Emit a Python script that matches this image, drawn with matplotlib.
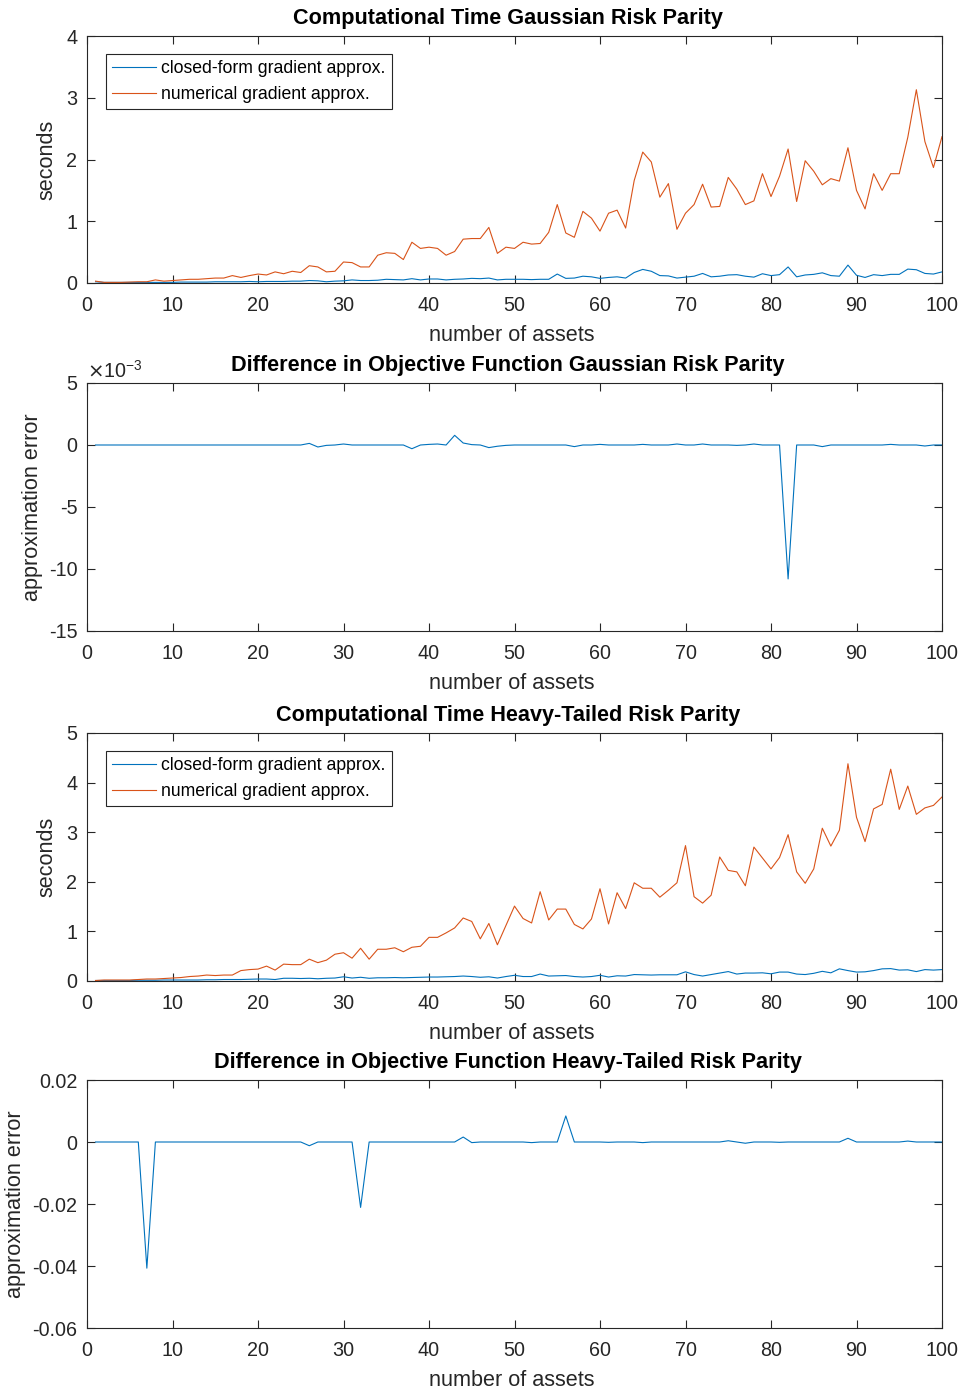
import numpy as np
import matplotlib
matplotlib.use("Agg")
import matplotlib.pyplot as plt
from matplotlib.ticker import FuncFormatter

plt.rcParams["font.family"] = ["Liberation Sans", "DejaVu Sans"]
plt.rcParams["axes.unicode_minus"] = False

n_assets = list(range(1, 101))

# Gaussian risk parity: run time (seconds)
gauss_closed = [
    0.02, 0.01, 0.01, 0.01, 0.01, 0.01, 0.01, 0.01, 0.01, 0.01,
    0.015, 0.015, 0.015, 0.015, 0.02, 0.02, 0.02, 0.02, 0.025, 0.02,
    0.025, 0.025, 0.025, 0.03, 0.03, 0.04, 0.035, 0.02, 0.03, 0.035,
    0.05, 0.04, 0.04, 0.045, 0.06, 0.055, 0.05, 0.07, 0.05, 0.065,
    0.065, 0.05, 0.06, 0.065, 0.075, 0.07, 0.08, 0.05, 0.06, 0.06,
    0.06, 0.055, 0.06, 0.06, 0.145, 0.075, 0.08, 0.11, 0.10, 0.075,
    0.09, 0.10, 0.08, 0.17, 0.22, 0.19, 0.12, 0.115, 0.08, 0.095,
    0.11, 0.155, 0.10, 0.11, 0.13, 0.135, 0.11, 0.095, 0.15, 0.12,
    0.135, 0.26, 0.10, 0.13, 0.14, 0.165, 0.12, 0.11, 0.29, 0.125,
    0.09, 0.135, 0.12, 0.14, 0.14, 0.225, 0.215, 0.155, 0.145, 0.18,
]
gauss_numeric = [
    0.03, 0.01, 0.01, 0.01, 0.015, 0.02, 0.02, 0.05, 0.03, 0.04,
    0.05, 0.06, 0.06, 0.07, 0.08, 0.08, 0.12, 0.09, 0.12, 0.145,
    0.13, 0.18, 0.15, 0.19, 0.17, 0.28, 0.26, 0.18, 0.19, 0.34,
    0.33, 0.26, 0.26, 0.45, 0.49, 0.48, 0.38, 0.66, 0.56, 0.58,
    0.56, 0.45, 0.51, 0.71, 0.72, 0.72, 0.90, 0.48, 0.58, 0.56,
    0.66, 0.63, 0.64, 0.82, 1.27, 0.81, 0.74, 1.16, 1.05, 0.84,
    1.13, 1.18, 0.89, 1.66, 2.12, 1.96, 1.39, 1.61, 0.87, 1.13,
    1.27, 1.60, 1.23, 1.24, 1.71, 1.52, 1.27, 1.33, 1.77, 1.40,
    1.73, 2.17, 1.32, 1.98, 1.81, 1.59, 1.69, 1.65, 2.19, 1.50,
    1.20, 1.77, 1.50, 1.77, 1.77, 2.36, 3.13, 2.29, 1.87, 2.37,
]
# Gaussian risk parity: objective difference (units of 1e-3)
gauss_diff_e3 = [
    0, 0, 0, 0, 0, 0, 0, 0, 0, 0,
    0, 0, 0, 0, 0, 0, 0, 0, 0, 0,
    0, 0, 0, 0, 0, 0.13, -0.16, -0.03, 0, 0.08,
    0, 0, 0, 0, 0, 0, 0, -0.30, 0, 0.05,
    0.08, 0, 0.78, 0.16, 0.03, 0, -0.21, -0.10, -0.03, 0,
    0, 0, 0, 0, 0, 0, -0.13, 0, 0, 0.05,
    0, 0, 0, 0, 0.05, 0, 0, 0, 0.08, 0,
    0, 0.08, 0, 0, 0, -0.03, 0, 0.08, 0, 0,
    0, -10.8, 0, 0, 0, -0.13, 0, 0, 0, 0,
    0, 0, 0, 0.05, 0, 0, 0, -0.08, 0, 0,
]

# Heavy-tailed risk parity: run time (seconds)
heavy_closed = [
    0.01, 0.01, 0.01, 0.01, 0.01, 0.015, 0.015, 0.015, 0.02, 0.02,
    0.02, 0.02, 0.02, 0.025, 0.025, 0.03, 0.03, 0.03, 0.035, 0.04,
    0.04, 0.03, 0.055, 0.055, 0.05, 0.055, 0.045, 0.055, 0.06, 0.085,
    0.06, 0.075, 0.055, 0.065, 0.065, 0.07, 0.065, 0.07, 0.075, 0.08,
    0.08, 0.085, 0.09, 0.10, 0.09, 0.075, 0.085, 0.06, 0.09, 0.115,
    0.09, 0.09, 0.14, 0.10, 0.105, 0.11, 0.09, 0.08, 0.09, 0.115,
    0.08, 0.105, 0.10, 0.13, 0.125, 0.12, 0.125, 0.125, 0.125, 0.185,
    0.13, 0.10, 0.13, 0.16, 0.19, 0.14, 0.16, 0.16, 0.165, 0.145,
    0.18, 0.18, 0.14, 0.13, 0.155, 0.195, 0.165, 0.245, 0.21, 0.18,
    0.185, 0.21, 0.245, 0.25, 0.22, 0.225, 0.19, 0.23, 0.22, 0.23,
]
heavy_numeric = [
    0.01, 0.02, 0.02, 0.02, 0.02, 0.03, 0.04, 0.04, 0.05, 0.06,
    0.07, 0.09, 0.10, 0.12, 0.11, 0.12, 0.12, 0.21, 0.23, 0.24,
    0.30, 0.22, 0.34, 0.33, 0.33, 0.44, 0.37, 0.42, 0.54, 0.57,
    0.46, 0.66, 0.44, 0.64, 0.64, 0.67, 0.59, 0.68, 0.70, 0.88,
    0.88, 0.97, 1.07, 1.27, 1.20, 0.85, 1.16, 0.73, 1.12, 1.51,
    1.26, 1.17, 1.80, 1.23, 1.45, 1.45, 1.14, 1.05, 1.25, 1.86,
    1.15, 1.78, 1.46, 1.98, 1.87, 1.87, 1.69, 1.83, 1.98, 2.73,
    1.70, 1.57, 1.73, 2.50, 2.23, 2.20, 1.92, 2.70, 2.48, 2.26,
    2.49, 2.95, 2.20, 1.97, 2.26, 3.08, 2.72, 3.04, 4.38, 3.30,
    2.81, 3.47, 3.56, 4.27, 3.46, 3.93, 3.36, 3.49, 3.54, 3.71,
]
# Heavy-tailed risk parity: objective difference
heavy_diff = [
    0, 0, 0, 0, 0, 0, -0.0407, 0, 0, 0,
    0, 0, 0, 0, 0, 0, 0, 0, 0, 0,
    0, 0, 0, 0, 0, -0.0012, 0, 0, 0, 0,
    0, -0.0211, 0, 0, 0, 0, 0, 0, 0, 0,
    0, 0, 0, 0.0016, -0.0002, 0, 0, 0, 0, 0,
    0, -0.0002, 0, 0, 0, 0.0084, 0, 0, 0, 0,
    -0.0001, 0, 0, 0, -0.0002, 0, 0, 0, 0, 0,
    0, 0, 0, 0, 0.0004, 0, -0.0004, 0, 0, 0,
    -0.0001, 0, 0, 0, 0, 0, 0, 0, 0.0012, 0,
    0, 0, 0, 0, 0, 0.0003, 0, 0, 0, 0,
]

legend_labels = ["closed-form gradient approx.", "numerical gradient approx."]
titles = [
    "Computational Time Gaussian Risk Parity",
    "Difference in Objective Function Gaussian Risk Parity",
    "Computational Time Heavy-Tailed Risk Parity",
    "Difference in Objective Function Heavy-Tailed Risk Parity",
]

BLUE = "#0072BD"
ORANGE = "#D95319"
GRAY = "#262626"
W, H = 964, 1394
TICK_FS = 14.2
LABEL_FS = 15.6
TITLE_FS = 15.6
LEGEND_FS = 12.7

fig = plt.figure(figsize=(W / 100, H / 100), dpi=100)

# axes rectangles in pixel terms: (top, bottom)
rows = [(36, 283), (383, 631), (733, 981), (1080, 1328)]
left_px, right_px = 87, 942


def make_axes(top, bottom):
    ax = fig.add_axes([left_px / W, 1 - bottom / H,
                       (right_px - left_px) / W, (bottom - top) / H])
    for s in ax.spines.values():
        s.set_color(GRAY)
        s.set_linewidth(0.8)
    ax.tick_params(direction="in", top=True, right=True, length=6.1,
                   width=0.8, color=GRAY, labelcolor=GRAY, labelsize=TICK_FS)
    ax.tick_params(axis="x", pad=9.5)
    ax.tick_params(axis="y", pad=7)
    ax.set_xlim(0, 100)
    ax.set_xticks(range(0, 101, 10))
    ax.set_xlabel("number of assets", fontsize=LABEL_FS, color=GRAY)
    ax.xaxis.set_label_coords(0.497, -0.170)
    return ax


axes = [make_axes(t, b) for t, b in rows]

# Panel 1
ax = axes[0]
ax.plot(n_assets, gauss_closed, color=BLUE, lw=0.8, label=legend_labels[0])
ax.plot(n_assets, gauss_numeric, color=ORANGE, lw=0.8, label=legend_labels[1])
ax.set_ylim(0, 4)
ax.set_yticks(range(0, 5))
ax.set_ylabel("seconds", fontsize=LABEL_FS, color=GRAY)
ax.yaxis.set_label_coords(-0.034, 0.5)

# Panel 2
ax = axes[1]
ax.plot(n_assets, np.array(gauss_diff_e3) * 1e-3, color=BLUE, lw=0.8)
ax.set_ylim(-15e-3, 5e-3)
ax.set_yticks(np.array([-15, -10, -5, 0, 5]) * 1e-3)
ax.yaxis.set_major_formatter(FuncFormatter(lambda v, p: f"{round(v * 1e3):d}"))
ax.text(0.0, 1.022, r"$\times$10$^{\mathregular{-3}}$", transform=ax.transAxes,
        fontsize=TICK_FS, color=GRAY, ha="left", va="baseline")
ax.set_ylabel("approximation error", fontsize=LABEL_FS, color=GRAY)
ax.yaxis.set_label_coords(-0.052, 0.5)

# Panel 3
ax = axes[2]
ax.plot(n_assets, heavy_closed, color=BLUE, lw=0.8, label=legend_labels[0])
ax.plot(n_assets, heavy_numeric, color=ORANGE, lw=0.8, label=legend_labels[1])
ax.set_ylim(0, 5)
ax.set_yticks(range(0, 6))
ax.set_ylabel("seconds", fontsize=LABEL_FS, color=GRAY)
ax.yaxis.set_label_coords(-0.034, 0.5)

# Panel 4
ax = axes[3]
ax.plot(n_assets, heavy_diff, color=BLUE, lw=0.8)
ax.set_ylim(-0.06, 0.02)
ax.set_yticks([-0.06, -0.04, -0.02, 0, 0.02])
ax.yaxis.set_major_formatter(FuncFormatter(
    lambda v, p: "0" if abs(v) < 1e-12 else f"{v:.2f}"))
ax.set_ylabel("approximation error", fontsize=LABEL_FS, color=GRAY)
ax.yaxis.set_label_coords(-0.071, 0.5)

for ax, t in zip(axes, titles):
    ax.set_title(t, fontsize=TITLE_FS, fontweight="bold", color="black",
                 pad=8.5, x=0.4925)

for ax in (axes[0], axes[2]):
    leg = ax.legend(loc="upper left", bbox_to_anchor=(0.022, 0.927),
                    fontsize=LEGEND_FS, frameon=True, fancybox=False,
                    framealpha=1, edgecolor=GRAY, handlelength=2.5,
                    handletextpad=0.3, borderpad=0.35, labelspacing=0.5,
                    borderaxespad=0)
    leg.get_frame().set_linewidth(0.8)

fig.savefig("out.png", dpi=100)
